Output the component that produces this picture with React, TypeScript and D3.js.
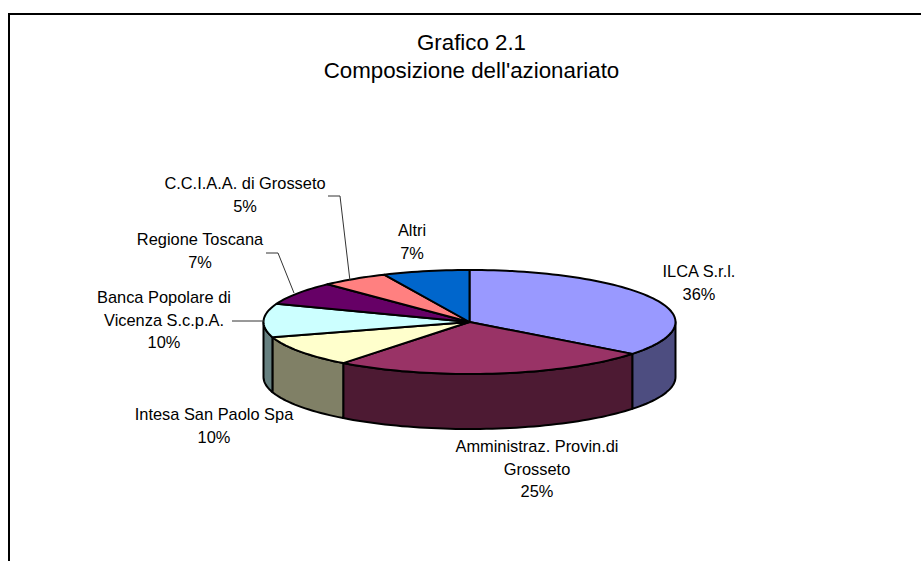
import React from "react";
import * as d3 from "d3";

const categories = ["ILCA S.r.l.", "Amministraz. Provin.di Grosseto", "Intesa San Paolo Spa", "Banca Popolare di Vicenza S.c.p.A.", "Regione Toscana", "C.C.I.A.A. di Grosseto", "Altri"];
const shares = [35.5, 25, 9.8, 10.4, 7.2, 5.3, 6.8];
const topColors = ["#9999FF", "#993366", "#FFFFCC", "#CCFFFF", "#660066", "#FF8080", "#0066CC"];
const sideColors = ["#4D4D80", "#4D1A33", "#808066", "#668080", "#330033", "#804040", "#003366"];
const titleLines = ["Grafico 2.1", "Composizione dell'azionariato"];
const labelLines = [
  ["ILCA S.r.l.", "36%"],
  ["Amministraz. Provin.di", "Grosseto", "25%"],
  ["Intesa San Paolo Spa", "10%"],
  ["Banca Popolare di", "Vicenza S.c.p.A.", "10%"],
  ["Regione Toscana", "7%"],
  ["C.C.I.A.A. di Grosseto", "5%"],
  ["Altri", "7%"],
];
const labelAnchors: [number, number][] = [[699, 277], [537, 452], [214, 420], [164, 303], [200, 245], [245, 189], [412, 236]];
const leaders: [number, number][][] = [
  [[232, 321], [264, 321]],
  [[266, 253], [278, 253], [294, 293]],
  [[328, 196], [340, 196], [350, 281]],
];

const CX = 469.5, CY = 322, RX = 206, RY = 52, DEPTH = 55;
const pt = (a: number, drop = 0): [number, number] => [CX + RX * Math.sin(a), CY - RY * Math.cos(a) + drop];
const arcPts = (a0: number, a1: number, drop = 0) => {
  const n = Math.max(2, Math.ceil((a1 - a0) / 0.03));
  return d3.range(n + 1).map((i) => pt(a0 + ((a1 - a0) * i) / n, drop));
};
const line = d3.line();
const pie = d3.pie<number>().sort(null).value((d) => d);

export default function App() {
  const arcs = pie(shares);
  const font = "'Liberation Sans', Arial, sans-serif";
  return (
    <svg width={921} height={561} style={{ position: "fixed", left: 0, top: 0, background: "#fff" }} fontFamily={font}>
      <path d="M9,561V14H921" fill="none" stroke="#000" strokeWidth={2} />
      {arcs.map((s, i) => {
        const a0 = Math.max(s.startAngle, Math.PI / 2);
        const a1 = Math.min(s.endAngle, (3 * Math.PI) / 2);
        if (a1 <= a0) return null;
        const pts = [...arcPts(a0, a1), ...arcPts(a0, a1, DEPTH).reverse()];
        return <path key={"side" + i} d={line(pts) + "Z"} fill={sideColors[i]} stroke="#000" strokeWidth={2} strokeLinejoin="round" />;
      })}
      {arcs.map((s, i) => {
        const pts: [number, number][] = [[CX, CY], ...arcPts(s.startAngle, s.endAngle)];
        return <path key={"top" + i} d={line(pts) + "Z"} fill={topColors[i]} stroke="#000" strokeWidth={2} strokeLinejoin="round" />;
      })}
      {leaders.map((l, i) => (
        <path key={"lead" + i} d={line(l) ?? ""} fill="none" stroke="#333" strokeWidth={1} />
      ))}
      {titleLines.map((t, i) => (
        <text key={t} x={471.5} y={50 + i * 28} textAnchor="middle" fontSize={22.3} fill="#000">{t}</text>
      ))}
      {categories.map((c, i) =>
        labelLines[i].map((t, j) => (
          <text key={c + j} x={labelAnchors[i][0]} y={labelAnchors[i][1] + j * 22.5} textAnchor="middle" fontSize={16.4} fill="#000">{t}</text>
        ))
      )}
    </svg>
  );
}
